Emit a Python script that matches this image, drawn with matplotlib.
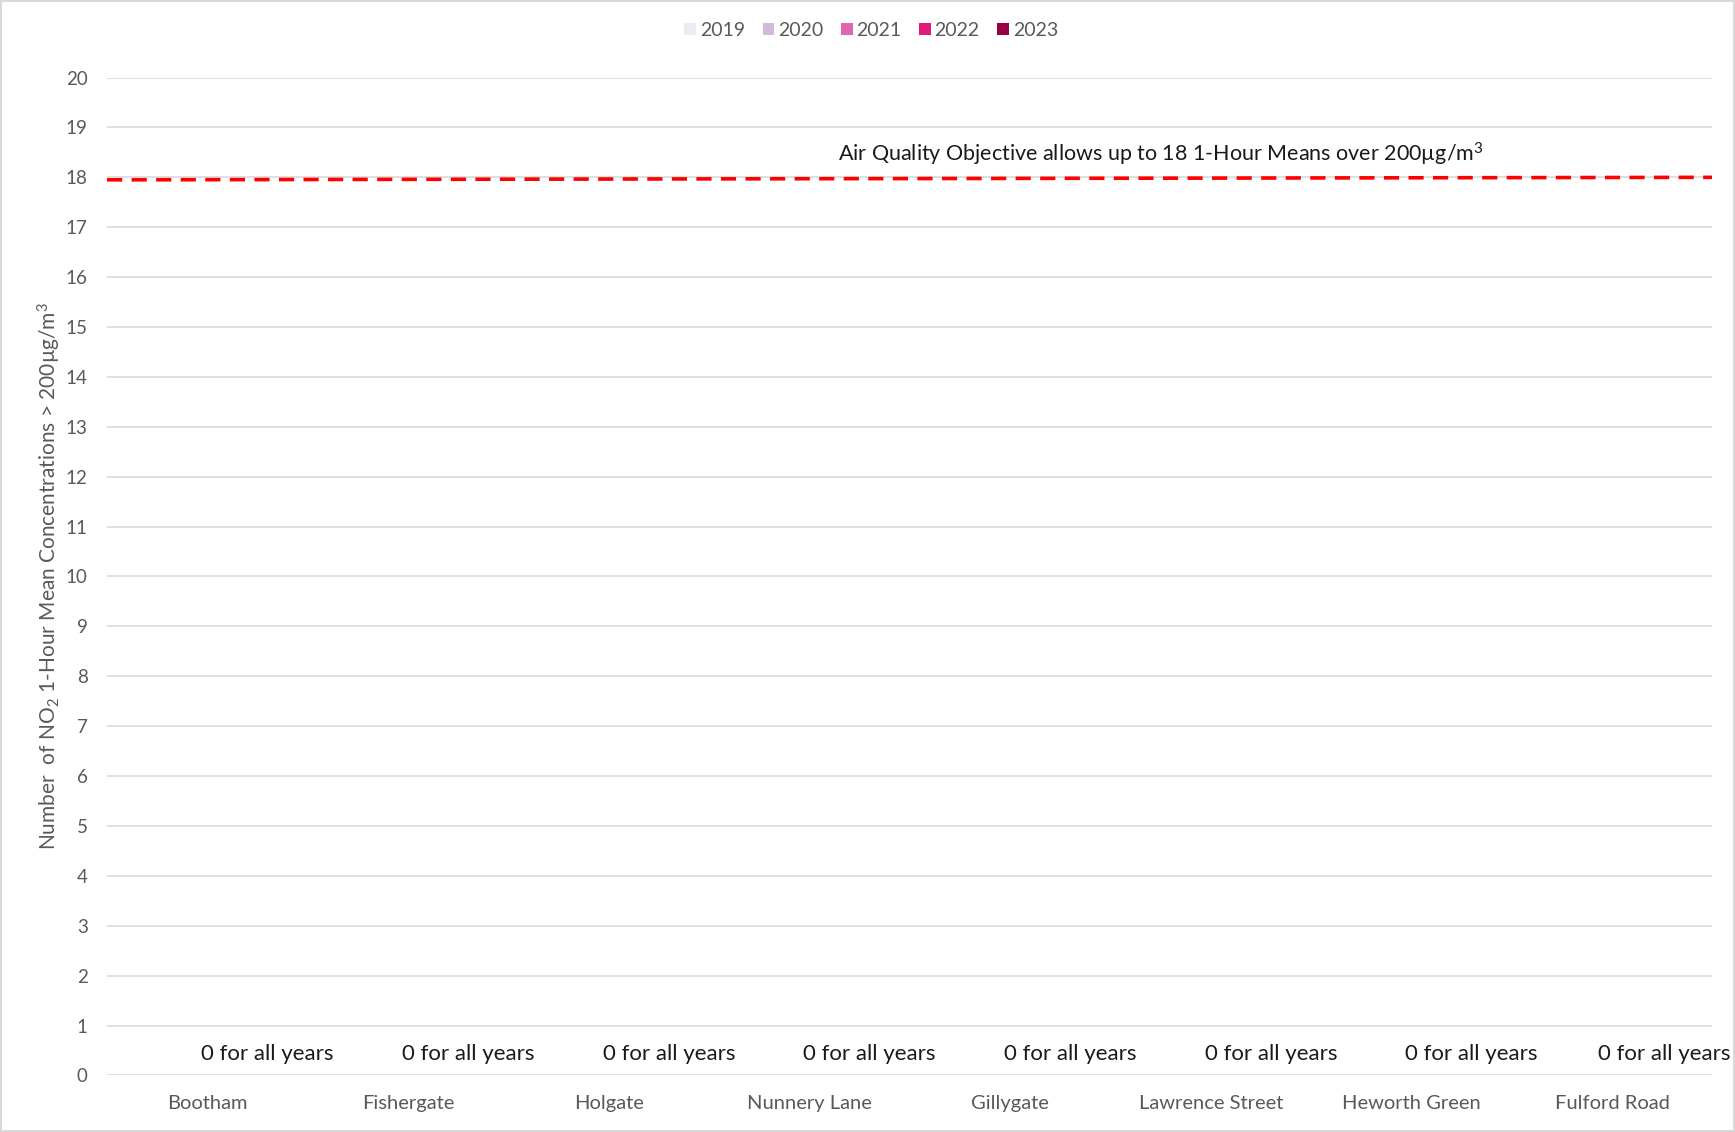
import matplotlib
matplotlib.use("Agg")
import matplotlib.pyplot as plt
import numpy as np

# sites and yearly counts of hourly means > 200ug/m3 (all zero)
sites = ["Bootham", "Fishergate", "Holgate", "Nunnery Lane", "Gillygate",
         "Lawrence Street", "Heworth Green", "Fulford Road"]
years = ["2019", "2020", "2021", "2022", "2023"]
counts_2019 = [0, 0, 0, 0, 0, 0, 0, 0]
counts_2020 = [0, 0, 0, 0, 0, 0, 0, 0]
counts_2021 = [0, 0, 0, 0, 0, 0, 0, 0]
counts_2022 = [0, 0, 0, 0, 0, 0, 0, 0]
counts_2023 = [0, 0, 0, 0, 0, 0, 0, 0]
objective = 18
zero_label = "0 for all years"

colors = ["#efe9f3", "#d4b9da", "#df65b0", "#dd1c77", "#980043"]

plt.rcParams['font.family'] = ['Lato', 'DejaVu Sans']
plt.rcParams['mathtext.fontset'] = 'custom'
plt.rcParams['mathtext.rm'] = 'Lato'
plt.rcParams['mathtext.it'] = 'Lato'

fig = plt.figure(figsize=(17.35, 11.32), dpi=100)
ax = fig.add_axes([0.0617, 0.050, 0.9253, 0.8815])

x = np.arange(len(sites))
w = 0.14
all_counts = [counts_2019, counts_2020, counts_2021, counts_2022, counts_2023]
for k, (yr, vals) in enumerate(zip(years, all_counts)):
    ax.bar(x + (k - 2) * w, vals, w, color=colors[k], label=yr)

ax.set_xlim(-0.5, len(sites) - 0.5)
ax.set_ylim(0, 20)
ax.set_yticks(range(0, 21))
ax.set_xticks(x)
ax.set_xticklabels(sites)
ax.tick_params(axis='y', length=0, labelsize=13.5, colors="#595959", pad=14)
ax.tick_params(axis='x', length=0, labelsize=14.5, colors="#595959", pad=14)
ax.grid(axis='y', color="#d9d9d9", lw=1.2)
ax.set_axisbelow(True)
for s in ax.spines.values():
    s.set_visible(False)

# objective line
ax.plot([-0.5, len(sites) - 0.5], [objective - 0.05, objective], color="red",
        lw=2.6, dashes=(4.2, 2.6), zorder=3)
ax.text(4.75, objective + 0.45,
        "Air Quality Objective allows up to 18 1-Hour Means over 200µg/m$^3$",
        ha='center', va='center', fontsize=15.5, color="#1a1a1a")

# zero labels
offsets = [0.3, 0.3, 0.3, 0.3, 0.3, 0.3, 0.3, 0.26]
for i in range(len(sites)):
    ax.text(i + offsets[i], 0.42, zero_label, ha='center', va='center',
            fontsize=16, color="#1a1a1a")

ax.set_ylabel("Number  of NO$_2$ 1-Hour Mean Concentrations > 200µg/m$^3$",
              fontsize=15, color="#595959", labelpad=2)

ax.legend(loc='center', bbox_to_anchor=(0.476, 1.047), ncol=5, frameon=False,
          fontsize=14, handlelength=0.6, handleheight=0.6, handletextpad=0.2,
          columnspacing=0.9, labelcolor="#595959")

fig.patches.append(plt.Rectangle((0.0005, 0.0005), 0.999, 0.999, transform=fig.transFigure,
                                 fill=False, edgecolor="#d9d9d9", lw=1.5))

plt.savefig("out.png", dpi=100)
plt.close()
